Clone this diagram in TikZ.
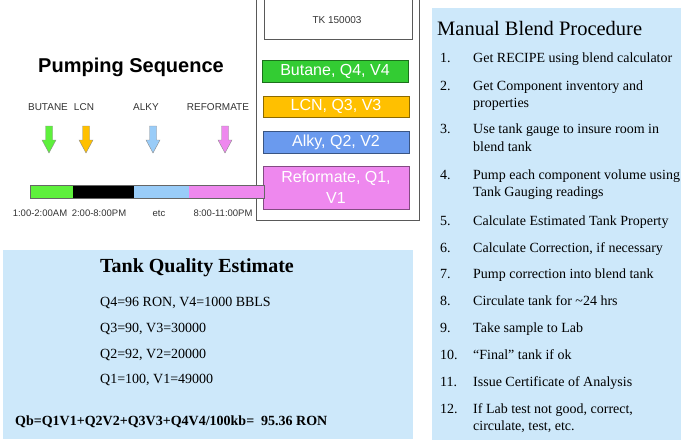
\documentclass[tikz,border=0pt]{standalone}
\usepackage{fontspec}
\setmainfont{Liberation Serif}
\setsansfont{Liberation Sans}
\usetikzlibrary{positioning}

\definecolor{panelblue}{HTML}{CDE8FA}
\definecolor{butgreen}{HTML}{33CC33}
\definecolor{lcngold}{HTML}{FFC000}
\definecolor{alkyblue}{HTML}{6A9AEE}
\definecolor{refpink}{HTML}{EE88EE}
\definecolor{barlime}{HTML}{5EF03C}
\definecolor{barsky}{HTML}{99CCF8}

\tikzset{
  fuelbox/.style={draw=#1!55!black, fill=#1, text=white, align=center,
    font=\sffamily\fontsize{16}{21}\selectfont, minimum width=146pt,
    inner sep=0pt},
  tiny/.style={font=\sffamily\fontsize{9.5}{11}\selectfont, text=black!80, inner sep=0pt},
  qline/.style={font=\fontsize{14}{16}\selectfont, anchor=west, inner sep=0pt},
  stepno/.style={font=\fontsize{14}{16}\selectfont, anchor=base west, inner sep=0pt},
  steptext/.style={font=\fontsize{14}{16}\selectfont, anchor=base west, inner sep=0pt}
}

\begin{document}
\begin{tikzpicture}[x=1pt,y=-1pt]
  \useasboundingbox (0,0) rectangle (681,440);

  % blend tank
  \draw[black!65, line width=0.9pt] (256,0) -- (256,220) -- (419,220) -- (419,0);
  \draw[black!65, line width=0.9pt] (264,0) -- (264,39) -- (412,39) -- (412,0);
  \node[tiny, font=\sffamily\fontsize{10}{12}\selectfont] (tk) at (337,20) {TK 150003};

  \node[fuelbox=butgreen, minimum height=22pt] (butane) at (335,71) {Butane, Q4, V4};
  \node[fuelbox=lcngold, minimum height=21pt] (lcn) at (336,106.5) {LCN, Q3, V3};
  \node[fuelbox=alkyblue, minimum height=22pt] (alky) at (336,142) {Alky, Q2, V2};
  \node[fuelbox=refpink, minimum height=43pt] (refo) at (336,187.5) {Reformate, Q1,\\V1};

  % pumping sequence
  \node[font=\sffamily\bfseries\fontsize{20}{22}\selectfont] (title) at (131,67) {Pumping Sequence};
  \foreach \x/\lab in {48/BUTANE, 84/LCN, 146/ALKY, 218/REFORMATE}
    \node[tiny, font=\sffamily\fontsize{10}{12}\selectfont] (c-\lab) at (\x,107) {\lab};
  \foreach \x/\col in {49/barlime, 86/lcngold, 153/barsky, 225/refpink}
    \draw[black!45, fill=\col, line join=miter]
      (\x-3.5,126) -- (\x+3.5,126) -- (\x+3.5,140) -- (\x+7,140) -- (\x,153)
      -- (\x-7,140) -- (\x-3.5,140) -- cycle;
  \foreach \a/\b/\col in {30/73/barlime, 73/134/black, 134/189/barsky, 189/264/refpink}
    \fill[\col] (\a,185) rectangle (\b,198);
  \draw[black!60, line width=0.6pt] (30,185) rectangle (264,198);
  \foreach \x/\lab/\nm in {40/1:00-2:00AM/t1, 99/2:00-8:00PM/t2, 159/etc/t3, 223/8:00-11:00PM/t4}
    \node[tiny] (\nm) at (\x,213) {\lab};

  % tank quality estimate
  \fill[panelblue] (3,250) rectangle (413,439);
  \node[font=\bfseries\fontsize{20}{22}\selectfont] (qtitle) at (197,268) {Tank Quality Estimate};
  \node[qline] (q4) at (100,303) {Q4=96 RON, V4=1000 BBLS};
  \node[qline] (q3) at (100,329) {Q3=90, V3=30000};
  \node[qline] (q2) at (100,355) {Q2=92, V2=20000};
  \node[qline] (q1) at (100,380) {Q1=100, V1=49000};
  \node[qline, font=\bfseries\fontsize{14}{16}\selectfont] (qb) at (15,422)
    {Qb=Q1V1+Q2V2+Q3V3+Q4V4/100kb=\ \ 95.36 RON};

  % manual blend procedure
  \fill[panelblue] (432,8) rectangle (681,440);
  \node[font=\fontsize{20.5}{22}\selectfont, anchor=west, inner sep=0pt] (mtitle) at (437,28) {Manual Blend Procedure};
  \foreach \y/\n/\t in {
      62/1./Get RECIPE using blend calculator,
      90/2./Get Component inventory and,
      107//properties,
      133/3./Use tank gauge to insure room in,
      151//blend tank,
      179/4./Pump each component volume using,
      196//Tank Gauging readings,
      225/5./Calculate Estimated Tank Property,
      252/6./{Calculate Correction, if necessary},
      278/7./Pump correction into blend tank,
      305/8./Circulate tank for \textasciitilde24 hrs,
      332/9./Take sample to Lab,
      359/10./``Final'' tank if ok,
      386/11./Issue Certificate of Analysis,
      413/12./{If Lab test not good, correct,},
      430//{circulate, test, etc.}} {
    \node[stepno] (n-\y) at (440,\y) {\n};
    \node[steptext] (s-\y) at (473,\y) {\t};
  }
\end{tikzpicture}
\end{document}
